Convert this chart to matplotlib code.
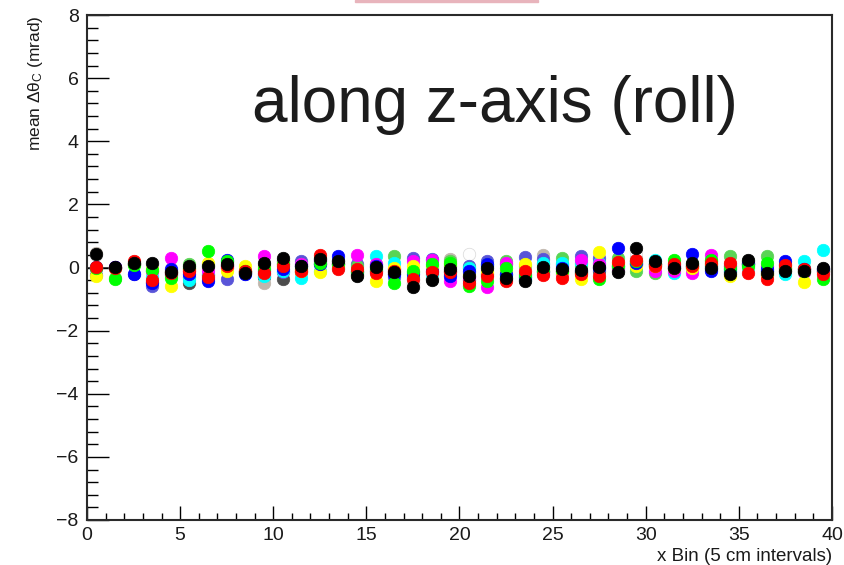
import matplotlib
matplotlib.use("Agg")
import matplotlib.pyplot as plt
from matplotlib.ticker import MultipleLocator
from matplotlib.patches import Rectangle

plt.rcParams["mathtext.fontset"] = "custom"
plt.rcParams["mathtext.rm"] = "Liberation Sans"
plt.rcParams["mathtext.it"] = "Liberation Sans"
plt.rcParams["mathtext.bf"] = "Liberation Sans:bold"

# bin centres (5 cm intervals)
bins = [i + 0.5 for i in range(40)]

black = [0.44, 0.02, 0.13, 0.15, -0.14, 0.06, 0.04, 0.10, -0.17, 0.15,
         0.31, 0.04, 0.28, 0.20, -0.28, 0.01, -0.14, -0.61, -0.41, -0.06,
         -0.28, -0.01, -0.33, -0.43, 0.02, -0.06, -0.08, 0.01, -0.15, 0.62,
         0.20, -0.01, 0.13, -0.01, -0.22, 0.25, -0.17, -0.12, -0.12, 0.00]
red = [0.02, 0.00, 0.20, -0.40, -0.18, -0.12, -0.30, 0.05, -0.12, -0.17,
       0.05, -0.10, 0.41, -0.06, -0.05, -0.17, -0.10, -0.36, -0.15, -0.15,
       -0.49, -0.28, -0.43, -0.12, -0.25, -0.33, -0.20, -0.28, 0.17, 0.25,
       0.05, 0.10, 0.05, 0.15, 0.13, -0.17, -0.38, 0.09, -0.06, -0.22]
green = [0.00, -0.36, 0.08, -0.08, -0.33, -0.02, 0.52, 0.20, -0.10, -0.05,
         0.12, -0.05, 0.15, 0.10, -0.10, -0.05, -0.49, -0.10, 0.10, 0.15,
         -0.59, -0.43, 0.00, -0.25, -0.10, -0.10, -0.17, -0.38, 0.05, 0.20,
         0.10, 0.25, 0.10, 0.25, 0.00, 0.05, 0.15, 0.00, -0.10, -0.38]
blue = [0.02, 0.03, -0.22, -0.50, -0.04, -0.20, -0.43, 0.23, -0.22, -0.10,
        -0.05, 0.05, 0.10, 0.36, -0.15, 0.05, -0.20, -0.20, -0.10, -0.28,
        -0.10, 0.10, -0.20, -0.30, -0.15, 0.00, -0.10, 0.00, 0.62, 0.15,
        0.10, 0.05, 0.44, -0.12, -0.05, 0.10, -0.05, 0.20, -0.05, -0.05]
yellow = [-0.28, 0.00, 0.12, -0.05, -0.59, -0.05, 0.15, -0.12, 0.04, 0.00,
          0.10, -0.10, -0.15, 0.05, -0.20, -0.43, 0.00, 0.04, 0.00, 0.10,
          -0.20, -0.15, -0.10, 0.10, -0.05, -0.15, -0.38, 0.49, 0.10, 0.05,
          0.05, 0.00, 0.00, 0.10, -0.27, 0.04, -0.20, -0.05, -0.47, -0.10]
magenta = [-0.02, 0.02, 0.10, -0.10, 0.31, -0.10, -0.10, 0.05, -0.15, 0.37,
           0.15, 0.10, 0.20, 0.15, 0.41, 0.10, -0.05, 0.20, 0.25, -0.43,
           -0.30, -0.61, 0.15, -0.20, -0.20, -0.20, 0.25, 0.10, 0.00, 0.10,
           -0.12, -0.10, -0.19, 0.41, 0.05, 0.10, 0.04, -0.05, -0.15, -0.15]
cyan = [0.00, -0.02, 0.15, -0.30, -0.25, -0.40, -0.20, 0.08, -0.18, -0.28,
        -0.10, -0.33, -0.10, 0.00, -0.10, 0.38, 0.15, -0.30, -0.20, -0.20,
        0.00, 0.05, -0.25, -0.35, 0.15, 0.15, 0.15, 0.15, 0.05, 0.15,
        0.25, -0.17, 0.05, 0.05, -0.10, 0.00, -0.10, -0.22, 0.20, 0.57]
lgreen = [0.03, -0.33, 0.15, -0.10, -0.10, 0.12, 0.08, 0.18, -0.10, 0.05,
          0.20, 0.10, 0.30, 0.20, 0.05, 0.10, 0.38, -0.15, 0.05, 0.20,
          0.00, 0.10, 0.20, 0.05, 0.10, 0.31, 0.05, 0.05, 0.31, -0.12,
          -0.17, 0.15, 0.05, 0.20, 0.36, 0.20, 0.36, 0.05, 0.00, -0.10]
slate = [-0.25, 0.00, -0.20, -0.59, -0.20, -0.30, -0.35, -0.36, -0.20, -0.20,
         -0.15, 0.20, 0.25, 0.25, 0.10, -0.10, -0.30, 0.31, 0.28, 0.05,
         0.04, 0.20, 0.10, 0.34, 0.28, 0.10, 0.38, 0.31, 0.05, 0.10,
         0.05, 0.00, -0.01, 0.05, 0.05, 0.15, -0.10, 0.10, -0.05, -0.05]
white = [0.40, 0.00, 0.12, 0.10, 0.00, 0.05, 0.00, 0.10, -0.15, 0.10,
         0.25, 0.00, 0.30, 0.15, -0.20, 0.00, -0.10, -0.55, -0.30, -0.10,
         0.44, 0.00, -0.30, -0.40, 0.05, 0.00, -0.10, 0.00, -0.10, 0.50,
         0.15, 0.00, 0.10, 0.00, -0.20, 0.20, -0.20, -0.10, -0.10, 0.00]
tan = [0.45, 0.02, 0.10, 0.12, -0.10, -0.05, 0.02, 0.08, -0.12, -0.49,
       0.20, 0.05, 0.20, 0.10, -0.15, 0.05, -0.05, -0.40, -0.25, 0.28,
       -0.15, 0.05, -0.20, -0.30, 0.41, 0.05, 0.10, 0.20, 0.00, 0.30,
       0.10, 0.05, 0.10, 0.10, 0.10, 0.15, -0.10, 0.00, -0.05, -0.05]
dgray = [0.00, 0.00, 0.10, -0.45, -0.15, -0.49, -0.25, 0.00, -0.15, -0.30,
         -0.38, -0.15, 0.10, 0.10, -0.25, -0.10, -0.20, -0.50, -0.35, -0.10,
         -0.40, -0.20, -0.35, -0.40, -0.10, -0.10, -0.15, -0.10, -0.10, 0.20,
         0.10, 0.00, 0.05, -0.05, -0.15, 0.10, -0.25, -0.10, -0.15, -0.10]

# draw order: last drawn is on top
series = [
    (dgray, "#4c4c4c"),
    (tan, "#c0b6ac"),
    (white, "#fefefe"),
    (slate, "#5954d8"),
    (lgreen, "#59d454"),
    (cyan, "#00ffff"),
    (magenta, "#ff00ff"),
    (yellow, "#ffff00"),
    (blue, "#0000ff"),
    (green, "#00ff00"),
    (red, "#ff0000"),
    (black, "#000000"),
]

W, H = 845, 565
fig = plt.figure(figsize=(W / 100, H / 100), dpi=100)
fig.patches.append(Rectangle((355 / W, 1 - 2 / H), 183 / W, 2 / H,
                             transform=fig.transFigure, color="#e8b4bc", zorder=5))

ax = fig.add_axes([87 / W, 1 - 520 / H, (832 - 87) / W, (520 - 15) / H])
ax.set_xlim(0, 40)
ax.set_ylim(-8, 8)

ax.hlines(0, 0, bins[1], color="#333333", lw=1.2, zorder=1)
for vals, col in series:
    ax.plot(bins, vals, linestyle="none", marker="o", markersize=9,
            markerfacecolor=col, markeredgecolor=col if col != "#fefefe" else "#d8d8d8",
            markeredgewidth=0.5, zorder=2)

for s in ax.spines.values():
    s.set_linewidth(1.5)
    s.set_color("#2a2a2a")

ax.xaxis.set_major_locator(MultipleLocator(5))
ax.xaxis.set_minor_locator(MultipleLocator(1))
ax.yaxis.set_major_locator(MultipleLocator(2))
ax.yaxis.set_minor_locator(MultipleLocator(0.4))
ax.tick_params(axis="x", which="major", direction="in", length=14 * 0.72, width=1, top=False, pad=5)
ax.tick_params(axis="x", which="minor", direction="in", length=7 * 0.72, width=1, top=False)
ax.tick_params(axis="y", which="major", direction="in", length=22 * 0.72, width=1, right=False, pad=6)
ax.tick_params(axis="y", which="minor", direction="in", length=11 * 0.72, width=1, right=False)
for lab in ax.get_xticklabels() + ax.get_yticklabels():
    lab.set_fontfamily("Liberation Sans")
    lab.set_fontsize(14)
    lab.set_color("#1a1a1a")

fig.text(832 / W, 1 - 561 / H, "x Bin (5 cm intervals)", ha="right", va="baseline",
         fontsize=13.5, family="Liberation Sans", color="#1a1a1a")
fig.text(36 / W, 1 - 15 / H, r"mean $\Delta\theta_{C}$ (mrad)", ha="center", va="top",
         rotation=90, fontsize=12.5, family="Liberation Sans", color="#1a1a1a")

fig.text(495 / W, 1 - 122 / H, "along z-axis (roll)", ha="center", va="baseline",
         fontsize=46, family="Liberation Sans", color="#1c1c1c")

fig.savefig("out.png", dpi=100)
